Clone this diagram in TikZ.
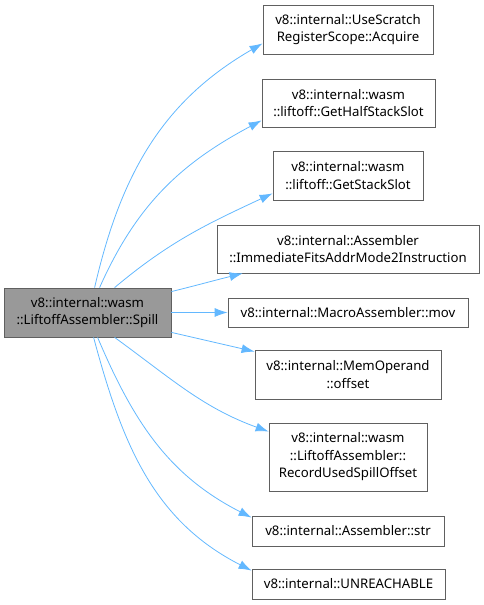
\documentclass[tikz,border=0pt]{standalone}
\usepackage{fontspec}
\setmainfont{Noto Sans}
\usetikzlibrary{arrows.meta,calc}
\begin{document}
\begin{tikzpicture}[x=1pt,y=1pt,
  box/.style={draw=gray!75!black,fill=white,line width=0.8pt,inner sep=0pt,align=center,
    font=\fontsize{13.2}{17.5}\selectfont,text=black},
  mainbox/.style={box,fill=black!40},
  edge/.style={draw={rgb,255:red,99;green,184;blue,255},line width=0.8pt,
    -{Latex[length=13pt,width=9pt]}}]
\useasboundingbox (0,0) rectangle (484,605);
\node[mainbox,minimum width=167,minimum height=49] (m) at (87.5,292.5) {v8::internal::wasm\\::LiftoffAssembler::Spill};
\node[box,minimum width=170,minimum height=49] (b1) at (348,575.5) {v8::internal::UseScratch\\RegisterScope::Acquire};
\node[box,minimum width=173,minimum height=48] (b2) at (348.5,502) {v8::internal::wasm\\::liftoff::GetHalfStackSlot};
\node[box,minimum width=150,minimum height=49] (b3) at (348,429.5) {v8::internal::wasm\\::liftoff::GetStackSlot};
\node[box,minimum width=262,minimum height=48] (b4) at (348,356) {v8::internal::Assembler\\::ImmediateFitsAddrMode2Instruction};
\node[box,minimum width=240,minimum height=29] (b5) at (348,292.5) {v8::internal::MacroAssembler::mov};
\node[box,minimum width=186,minimum height=49] (b6) at (348,230.5) {v8::internal::MemOperand\\::offset};
\node[box,minimum width=158,minimum height=68] (b7) at (348,148) {v8::internal::wasm\\::LiftoffAssembler::\\RecordUsedSpillOffset};
\node[box,minimum width=192,minimum height=30] (b8) at (348,74) {v8::internal::Assembler::str};
\node[box,minimum width=193,minimum height=30] (b9) at (348.5,21) {v8::internal::UNREACHABLE};
\draw[edge] ($(m.north west)+(91,0)$) to[out=77,in=210] ($(b1.south west)+(0,11)$);
\draw[edge] ($(m.north west)+(96,0)$) to[out=66,in=208] ($(b2.south west)+(0,7)$);
\draw[edge] ($(m.north west)+(111,0)$) to[out=40,in=205] ($(b3.south west)+(0,7)$);
\draw[edge] ($(m.north east)+(0,-4)$) to[out=14,in=194] ($(b4.south west)+(26,0)$);
\draw[edge] (m.east) -- (b5.west);
\draw[edge] ($(m.south east)+(0,5)$) to[out=-13,in=167] ($(b6.north west)+(0,-2)$);
\draw[edge] ($(m.south west)+(111,0)$) to[out=-36,in=160] ($(b7.north west)+(0,-9)$);
\draw[edge] ($(m.south west)+(94,0)$) to[out=-67,in=153] ($(b8.north west)+(0,-2)$);
\draw[edge] ($(m.south west)+(90,0)$) to[out=-75,in=153] ($(b9.north west)+(0,-2)$);
\end{tikzpicture}
\end{document}
